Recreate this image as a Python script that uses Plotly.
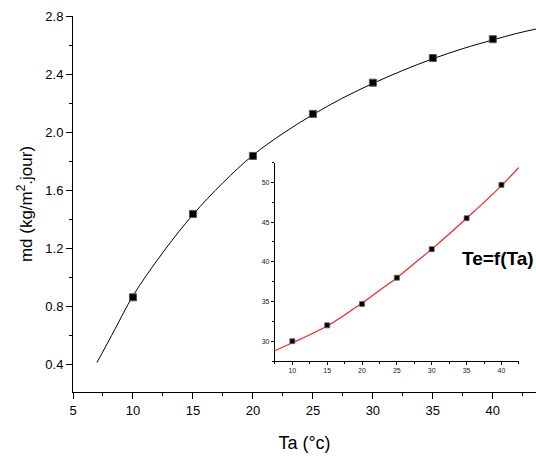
import plotly.graph_objects as go

# Main chart: md vs Ta
ta_pts = [10, 15, 20, 25, 30, 35, 40]
md_pts = [0.86, 1.435, 1.835, 2.125, 2.34, 2.51, 2.64]
ta_fit = [7, 8.5, 10, 12.5, 15, 17.5, 20, 22.5, 25, 27.5, 30, 32.5, 35, 37.5, 40, 42, 43.6]
md_fit = [0.41, 0.64, 0.87, 1.17, 1.43, 1.65, 1.84, 1.99, 2.12, 2.235, 2.335, 2.425, 2.505, 2.575, 2.635, 2.68, 2.71]

# Inset: Te vs Ta
te_pts = [30.0, 32.0, 34.7, 38.0, 41.6, 45.5, 49.7]
ta_fit2 = [7.5, 10, 12.5, 15, 17.5, 20, 22.5, 25, 27.5, 30, 32.5, 35, 37.5, 40, 42.5]
te_fit = [28.8, 29.8, 30.8, 31.9, 33.3, 34.8, 36.4, 38.0, 39.8, 41.6, 43.5, 45.5, 47.5, 49.6, 51.9]

fig = go.Figure()
fig.add_trace(go.Scatter(x=ta_fit, y=md_fit, mode="lines", line=dict(color="black", width=1, shape="spline"),
                         xaxis="x", yaxis="y", showlegend=False))
fig.add_trace(go.Scatter(x=ta_pts, y=md_pts, mode="markers",
                         marker=dict(symbol="square", size=7, color="black", line=dict(color="#555", width=1)),
                         xaxis="x", yaxis="y", showlegend=False))
fig.add_trace(go.Scatter(x=ta_fit2, y=te_fit, mode="lines", line=dict(color="#ff2020", width=1.2, shape="spline"),
                         xaxis="x2", yaxis="y2", showlegend=False))
fig.add_trace(go.Scatter(x=ta_pts, y=te_pts, mode="markers",
                         marker=dict(symbol="square", size=5, color="black", line=dict(color="#666", width=0.8)),
                         xaxis="x2", yaxis="y2", showlegend=False))

axfont = dict(family="Arial, Liberation Sans, sans-serif", size=13, color="black")
fig.update_layout(
    width=536, height=460,
    margin=dict(l=73, r=0, t=16, b=68, autoexpand=False),
    paper_bgcolor="white", plot_bgcolor="rgba(0,0,0,0)",
    font=dict(family="Arial, Liberation Sans, sans-serif", color="black"),
    xaxis=dict(range=[5, 43.6], domain=[0, 1], tickvals=[5, 10, 15, 20, 25, 30, 35, 40], automargin=False,
               ticks="outside", ticklen=6, tickwidth=1, tickcolor="black",
               showline=True, linecolor="black", linewidth=1, showgrid=False, zeroline=False,
               tickfont=axfont,
               minor=dict(ticks="outside", ticklen=3, tickcolor="black", dtick=2.5, tick0=5, showgrid=False),
               title=dict(text="Ta (°c)", font=dict(size=18, family="Arial, Liberation Sans, sans-serif"), standoff=19)),
    yaxis=dict(range=[0.207, 2.8], domain=[0, 1], tickvals=[0.4, 0.8, 1.2, 1.6, 2.0, 2.4, 2.8], automargin=False,
               ticktext=["0.4", "0.8", "1.2", "1.6", "2.0", "2.4", "2.8"],
               ticks="outside", ticklen=6, tickwidth=1, tickcolor="black",
               showline=True, linecolor="black", linewidth=1, showgrid=False, zeroline=False,
               tickfont=axfont,
               minor=dict(ticks="outside", ticklen=3, tickcolor="black", dtick=0.2, tick0=0.4, showgrid=False),
               title=dict(text="md (kg/m<sup>2</sup>.jour)", font=dict(size=17, family="Arial, Liberation Sans, sans-serif"), standoff=8)),
    xaxis2=dict(range=[7.5, 42.5], domain=[0.436, 0.963], anchor="y2", automargin=False,
                tickvals=[10, 15, 20, 25, 30, 35, 40],
                ticks="outside", ticklen=3, tickwidth=1, tickcolor="black",
                showline=True, linecolor="black", linewidth=1, showgrid=False, zeroline=False,
                tickfont=dict(size=7, color="#222"),
                minor=dict(ticks="outside", ticklen=2, tickcolor="black", dtick=2.5, tick0=7.5, showgrid=False)),
    yaxis2=dict(range=[27.5, 52.5], domain=[0.0824, 0.61], anchor="x2", automargin=False,
                tickvals=[30, 35, 40, 45, 50],
                ticks="outside", ticklen=3, tickwidth=1, tickcolor="black",
                showline=True, linecolor="black", linewidth=1, showgrid=False, zeroline=False,
                tickfont=dict(size=7, color="#222"),
                minor=dict(ticks="outside", ticklen=2, tickcolor="black", dtick=2.5, tick0=27.5, showgrid=False)),
    annotations=[dict(text="<b>Te=f(Ta)</b>", xref="paper", yref="paper", x=1.0, xanchor="right", y=0.356,
                      showarrow=False, font=dict(size=19, family="Arial, Liberation Sans, sans-serif", color="black"))],
)
fig.write_html("out.html", config={"displayModeBar": False},
               post_script="document.body.style.margin='0';document.body.style.padding='0';")
